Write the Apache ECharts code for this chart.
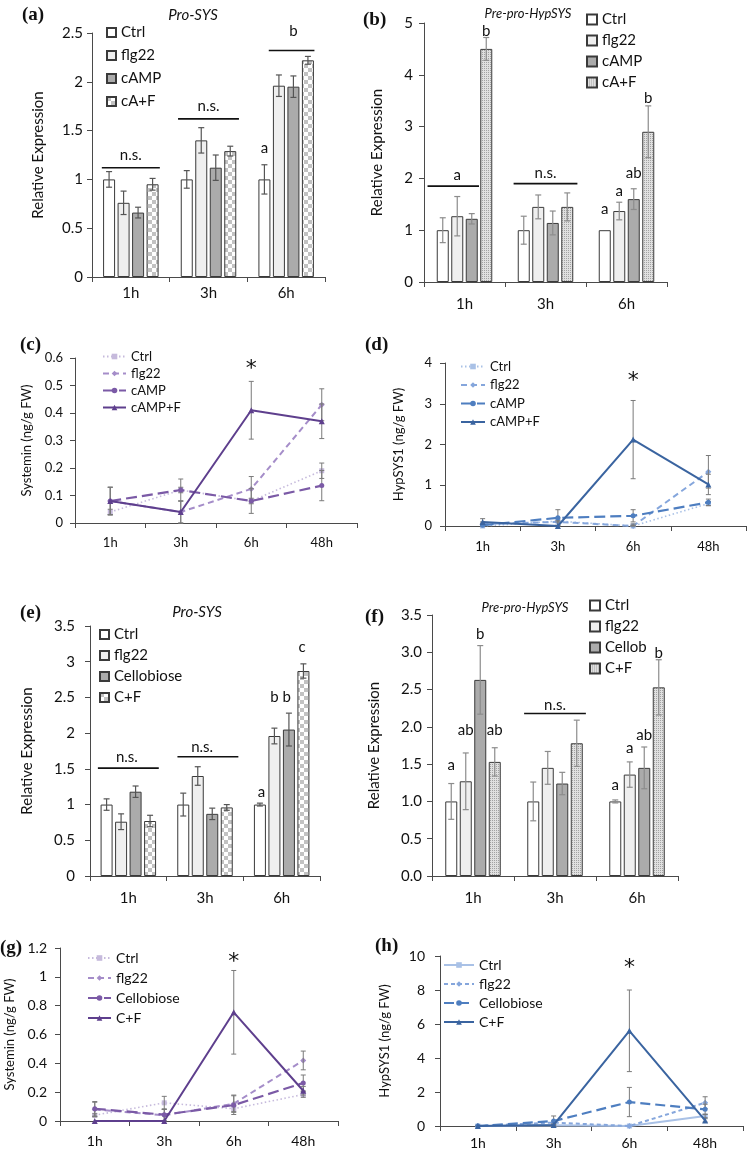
<!DOCTYPE html>
<html><head><meta charset="utf-8">
<script src="https://cdn.jsdelivr.net/npm/echarts@6/dist/echarts.min.js"></script>
<style>html,body{margin:0;padding:0;background:#fff}#c{width:748px;height:1151px}</style>
</head><body><div id="c"></div>
<script>
// ================= DATA =================
const barCats = ['1h', '3h', '6h'];
const lineCats = ['1h', '3h', '6h', '48h'];

// (a) Pro-SYS (cAMP experiment)
const aNames = ['Ctrl', 'flg22', 'cAMP', 'cA+F'];
const aCtrl = [1.00, 1.00, 1.00], aCtrlErr = [0.08, 0.09, 0.15];
const aFlg  = [0.76, 1.40, 1.96], aFlgErr  = [0.12, 0.13, 0.11];
const aCamp = [0.66, 1.12, 1.95], aCampErr = [0.055, 0.13, 0.11];
const aCaf  = [0.95, 1.29, 2.22], aCafErr  = [0.06, 0.05, 0.04];
const aLetters = [[0, 1.25, 1.5, 'n.s.'], [1, 1.75, 1.5, 'n.s.'], [2, 1.32, 0, 'a'], [2, 2.52, 2, 'b']];
const aLines = [[0, 1.12, -0.5, 3.5], [1, 1.62, -0.6, 3.6], [2, 2.32, 0.3, 3.45]];

// (b) Pre-pro-HypSYS (cAMP experiment)
const bNames = ['Ctrl', 'flg22', 'cAMP', 'cA+F'];
const bCtrl = [1.00, 1.00, 1.00], bCtrlErr = [0.24, 0.27, 0];
const bFlg  = [1.27, 1.45, 1.37], bFlgErr  = [0.38, 0.23, 0.17];
const bCamp = [1.22, 1.14, 1.60], bCampErr = [0.10, 0.23, 0.20];
const bCaf  = [4.50, 1.45, 2.90], bCafErr  = [0.22, 0.27, 0.50];
const bLetters = [[0, 2.06, 1, 'a'], [0, 4.84, 3, 'b'], [1, 2.10, 1.5, 'n.s.'], [2, 1.40, 0, 'a'], [2, 1.76, 1, 'a'], [2, 2.10, 2, 'ab'], [2, 3.55, 3, 'b']];
const bLines = [[0, 1.85, -1.05, 2.5], [1, 1.90, -0.7, 3.7]];

// (c) Systemin (cAMP experiment)
const cNames = ['Ctrl', 'flg22', 'cAMP', 'cAMP+F'];
const cCtrl = [0.04, 0.12, 0.08, 0.19],  cCtrlErr = [0.01, 0.01, 0.01, 0.028];
const cFlg  = [0.08, 0.04, 0.124, 0.43], cFlgErr  = [0.05, 0.04, 0.045, 0.058];
const cCamp = [0.08, 0.12, 0.08, 0.136], cCampErr = [0.05, 0.04, 0.045, 0.055];
const cCF   = [0.08, 0.04, 0.41, 0.37],  cCFErr   = [0.05, 0.04, 0.105, 0.063];
const cStar = [[2, 0.56, 0, '*']];

// (d) HypSYS1 (cAMP experiment)
const dNames = ['Ctrl', 'flg22', 'cAMP', 'cAMP+F'];
const dCtrl = [0.00, 0.12, 0.00, 0.55], dCtrlErr = [0.02, 0.02, 0.02, 0.05];
const dFlg  = [0.05, 0.10, 0.00, 1.33], dFlgErr  = [0.05, 0.10, 0.05, 0.40];
const dCamp = [0.02, 0.20, 0.25, 0.58], dCampErr = [0.05, 0.20, 0.15, 0.08];
const dCF   = [0.10, 0.00, 2.12, 1.02], dCFErr   = [0.08, 0.02, 0.96, 0.25];
const dStar = [[2, 3.54, 0, '*']];

// (e) Pro-SYS (cellobiose experiment)
const eNames = ['Ctrl', 'flg22', 'Cellobiose', 'C+F'];
const eCtrl = [1.00, 1.00, 1.00], eCtrlErr = [0.08, 0.16, 0.02];
const eFlg  = [0.76, 1.40, 1.96], eFlgErr  = [0.11, 0.13, 0.11];
const eCell = [1.18, 0.87, 2.05], eCellErr = [0.08, 0.08, 0.23];
const eCF   = [0.77, 0.96, 2.87], eCFErr   = [0.08, 0.04, 0.10];
const eLetters = [[0, 1.67, 1.4, 'n.s.'], [1, 1.81, 1.3, 'n.s.'], [2, 1.18, 0.1, 'a'], [2, 2.50, 1, 'b'], [2, 2.50, 1.85, 'b'], [2, 3.20, 2.9, 'c']];
const eLines = [[0, 1.51, -0.6, 3.6], [1, 1.67, -0.4, 3.8]];

// (f) Pre-pro-HypSYS (cellobiose experiment)
const fNames = ['Ctrl', 'flg22', 'Cellob', 'C+F'];
const fCtrl = [1.00, 1.00, 1.00], fCtrlErr = [0.24, 0.26, 0.02];
const fFlg  = [1.27, 1.45, 1.36], fFlgErr  = [0.38, 0.22, 0.17];
const fCell = [2.63, 1.24, 1.45], fCellErr = [0.46, 0.15, 0.28];
const fCF   = [1.53, 1.78, 2.53], fCFErr   = [0.19, 0.31, 0.37];
const fLetters = [[0, 1.49, 0, 'a'], [0, 1.96, 1, 'ab'], [0, 3.24, 2, 'b'], [0, 1.96, 3, 'ab'], [1, 2.29, 1.5, 'n.s.'], [2, 1.22, 0, 'a'], [2, 1.72, 1, 'a'], [2, 1.89, 2, 'ab'], [2, 2.99, 3, 'b']];
const fLines = [[1, 2.18, -0.63, 3.63]];

// (g) Systemin (cellobiose experiment)
const gNames = ['Ctrl', 'flg22', 'Cellobiose', 'C+F'];
const gCtrl = [0.04, 0.126, 0.085, 0.184], gCtrlErr = [0.01, 0.045, 0.02, 0.02];
const gFlg  = [0.08, 0.04, 0.12, 0.42],    gFlgErr  = [0.05, 0.04, 0.06, 0.065];
const gCell = [0.085, 0.044, 0.11, 0.264], gCellErr = [0.05, 0.04, 0.065, 0.055];
const gCF   = [0.00, 0.00, 0.754, 0.21],   gCFErr   = [0, 0, 0.29, 0.03];
const gStar = [[2, 1.10, 0, '*']];

// (h) HypSYS1 (cellobiose experiment)
const hNames = ['Ctrl', 'flg22', 'Cellobiose', 'C+F'];
const hCtrl = [0.00, 0.05, 0.00, 0.59], hCtrlErr = [0, 0.05, 0, 0.10];
const hFlg  = [0.00, 0.20, 0.00, 1.37], hFlgErr  = [0, 0.10, 0, 0.35];
const hCell = [0.00, 0.29, 1.41, 0.98], hCellErr = [0.05, 0.30, 0.86, 0.30];
const hCF   = [0.00, 0.06, 5.60, 0.33], hCFErr   = [0, 0.05, 2.40, 0.10];
const hStar = [[2, 9.3, 0, '*']];

// ================= BUILD =================
const FONT = 'Lato, "Open Sans", sans-serif';
const SERIF = '"Liberation Serif", "DejaVu Serif", serif';
const grids = [], xAxis = [], yAxis = [], series = [], legend = [], graphic = [];

function checker() {
  const c = document.createElement('canvas'); c.width = c.height = 8;
  const x = c.getContext('2d');
  x.fillStyle = '#ffffff'; x.fillRect(0, 0, 8, 8);
  x.fillStyle = '#c2c2c2'; x.fillRect(0, 0, 4, 4); x.fillRect(4, 4, 4, 4);
  return c;
}
function stipple() {
  const c = document.createElement('canvas'); c.width = c.height = 2;
  const x = c.getContext('2d');
  x.fillStyle = '#e0e0e0'; x.fillRect(0, 0, 2, 2);
  x.fillStyle = '#a2a2a2'; x.fillRect(0, 0, 1, 1);
  return c;
}

function addGrid(box, cats, o) {
  const gi = grids.length;
  grids.push({left: box[0], top: box[1], width: box[2], height: box[3]});
  xAxis.push({gridIndex: gi, type: 'category', data: cats, boundaryGap: true,
    axisLine: {show: true, lineStyle: {color: '#4a4a4a', width: 1}},
    axisTick: {show: true, length: 5, inside: false, alignWithLabel: false, lineStyle: {color: '#4a4a4a'}},
    axisLabel: {color: '#111', fontSize: o.fs, fontFamily: FONT, margin: o.xm, interval: 0},
    splitLine: {show: false}});
  yAxis.push({gridIndex: gi, type: 'value', min: 0, max: o.max, interval: o.int,
    axisLine: {show: true, lineStyle: {color: '#4a4a4a', width: 1}},
    axisTick: {show: true, length: 5, inside: false, lineStyle: {color: '#4a4a4a'}},
    axisLabel: {color: '#111', fontSize: o.fs, fontFamily: FONT, margin: o.ym, formatter: o.fmt},
    splitLine: {show: false},
    name: o.name, nameLocation: 'middle', nameRotate: 90, nameGap: o.ng,
    nameTextStyle: {fontSize: o.nfs, fontFamily: FONT, color: '#111'}});
  return gi;
}

function errSeries(gi, vals, errs, slot, n, step, color, capW, lw) {
  series.push({type: 'custom', xAxisIndex: gi, yAxisIndex: gi, silent: true, z: 5,
    data: vals.map((v, i) => [i, v, errs[i]]),
    renderItem: (p, api) => {
      const i = api.value(0), v = api.value(1), e = api.value(2);
      if (!(e > 0)) return null;
      const off = (slot - (n - 1) / 2) * step;
      const x = api.coord([i, v])[0] + off;
      const y1 = api.coord([i, v + e])[1], y0 = api.coord([i, Math.max(0, v - e)])[1];
      const st = {stroke: color, lineWidth: lw};
      return {type: 'group', children: [
        {type: 'line', shape: {x1: x, y1: y1, x2: x, y2: y0}, style: st},
        {type: 'line', shape: {x1: x - capW / 2, y1: y1, x2: x + capW / 2, y2: y1}, style: st},
        {type: 'line', shape: {x1: x - capW / 2, y1: y0, x2: x + capW / 2, y2: y0}, style: st}]};
    }});
}

function addNotes(gi, notes, lines, n, step, fs, fam) {
  const data = notes.map(t => [t[0], t[1]]).concat(lines.map(l => [l[0], l[1]]));
  series.push({type: 'custom', xAxisIndex: gi, yAxisIndex: gi, silent: true, z: 6, data: data,
    renderItem: (p, api) => {
      const k = p.dataIndex;
      const c = api.coord([api.value(0), api.value(1)]);
      if (k < notes.length) {
        const t = notes[k];
        const x = c[0] + (t[2] - (n - 1) / 2) * step;
        return {type: 'text', x: x, y: c[1], style: {text: t[3], fontSize: fs, fontFamily: fam || FONT, fill: '#111',
          align: 'center', verticalAlign: 'middle', textAlign: 'center', textVerticalAlign: 'middle'}};
      }
      const l = lines[k - notes.length];
      const x0 = c[0] + (l[2] - (n - 1) / 2) * step, x1 = c[0] + (l[3] - (n - 1) / 2) * step;
      return {type: 'line', shape: {x1: x0, y1: c[1], x2: x1, y2: c[1]}, style: {stroke: '#111', lineWidth: 1.6}};
    }});
}

function barPanel(key, box, axisOpt, names, vals, errs, fills, errColor, leg, letters, lines, noteFs) {
  const gi = addGrid(box, barCats, axisOpt);
  const bw = 12, gap = 2.5, step = bw + gap;
  names.forEach((nm, s) => {
    series.push({type: 'bar', name: key + '|' + nm, xAxisIndex: gi, yAxisIndex: gi,
      data: vals[s], barWidth: bw, barGap: (gap / bw * 100) + '%',
      itemStyle: {color: fills[s], borderColor: '#3a3a3a', borderWidth: 1}, z: 2, silent: true});
  });
  names.forEach((nm, s) => errSeries(gi, vals[s], errs[s], s, names.length, step, errColor, 6, 1.2));
  addNotes(gi, letters, lines, names.length, step, noteFs);
  legend.push({left: leg.left, top: leg.top, orient: 'vertical', padding: 0, itemGap: leg.gap,
    itemWidth: leg.sz, itemHeight: leg.sz, icon: 'rect', selectedMode: false,
    data: names.map(nm => key + '|' + nm), formatter: n => n.split('|')[1],
    textStyle: {fontSize: leg.fs, fontFamily: FONT, color: '#111'}});
}

function linePanel(key, box, axisOpt, names, vals, errs, colors, dashes, widths, symbols, leg, star) {
  const gi = addGrid(box, lineCats, axisOpt);
  names.forEach((nm, s) => errSeries(gi, vals[s], errs[s], 0, 1, 0, '#7a7a7a', 5, 1));
  names.forEach((nm, s) => {
    series.push({type: 'line', name: key + '|' + nm, xAxisIndex: gi, yAxisIndex: gi, data: vals[s],
      symbol: symbols[s][0], symbolSize: symbols[s][1], showSymbol: true, z: 3 + s, silent: true,
      lineStyle: {color: colors[s], width: widths[s], type: dashes[s]},
      itemStyle: {color: colors[s], borderWidth: 0}});
  });
  addNotes(gi, star, [], 1, 0, 22, '"DejaVu Sans", sans-serif');
  legend.push({left: leg.left, top: leg.top, orient: 'vertical', padding: 0, itemGap: leg.gap,
    itemWidth: leg.w, itemHeight: 7, selectedMode: false,
    data: names.map(nm => key + '|' + nm), formatter: n => n.split('|')[1],
    textStyle: {fontSize: leg.fs, fontFamily: FONT, color: '#111'}});
}

const CHECK = {image: checker(), repeat: 'repeat'};
const STIP = {image: stipple(), repeat: 'repeat'};
const barFillsA = ['#ffffff', '#efefef', '#ababab', CHECK];
const barFillsB = ['#ffffff', '#efefef', '#ababab', STIP];
const purple = ['#c6badc', '#a58dc9', '#7b5aa6', '#5e3f8d'];
const blue = ['#a9c1e6', '#85a6dc', '#4e7ec0', '#3a64a0'];
const dashC = [[1.5, 2.5], [6, 4], [11, 5], 'solid'];
const dashH = ['solid', [4, 3], [10, 5], 'solid'];
const syms = [['rect', 5], ['diamond', 6], ['circle', 5], ['triangle', 6]];

barPanel('a', [92, 33, 233, 244], {max: 2.5, int: 0.5, fs: 15, xm: 9, ym: 9, name: 'Relative Expression', ng: 46, nfs: 15},
  aNames, [aCtrl, aFlg, aCamp, aCaf], [aCtrlErr, aFlgErr, aCampErr, aCafErr], barFillsA, '#555',
  {left: 106, top: 25, gap: 8, sz: 9, fs: 15}, aLetters, aLines, 15);

barPanel('b', [424, 23, 243, 259], {max: 5, int: 1, fs: 15, xm: 15, ym: 11, name: 'Relative Expression', ng: 39, nfs: 15},
  bNames, [bCtrl, bFlg, bCamp, bCaf], [bCtrlErr, bFlgErr, bCampErr, bCafErr], barFillsB, '#8c8c8c',
  {left: 586, top: 12, gap: 6, sz: 10, fs: 15}, bLetters, bLines, 15);

linePanel('c', [75, 358, 282, 165], {max: 0.6, int: 0.1, fs: 13, xm: 13, ym: 12, name: 'Systemin (ng/g FW)', ng: 42, nfs: 13},
  cNames, [cCtrl, cFlg, cCamp, cCF], [cCtrlErr, cFlgErr, cCampErr, cCFErr], purple, dashC, [1.6, 2, 2.2, 2], syms,
  {left: 102, top: 350, gap: 4, w: 23, fs: 13}, cStar);

linePanel('d', [445, 363, 301, 163], {max: 4, int: 1, fs: 13, xm: 14, ym: 13, name: 'HypSYS1 (ng/g FW)', ng: 40, nfs: 13},
  dNames, [dCtrl, dFlg, dCamp, dCF], [dCtrlErr, dFlgErr, dCampErr, dCFErr], blue, dashC, [1.6, 2, 2.2, 2], syms,
  {left: 460, top: 360, gap: 5.5, w: 24, fs: 13}, dStar);

barPanel('e', [90, 626, 230, 250], {max: 3.5, int: 0.5, fs: 15, xm: 15, ym: 15, name: 'Relative Expression', ng: 55, nfs: 15},
  eNames, [eCtrl, eFlg, eCell, eCF], [eCtrlErr, eFlgErr, eCellErr, eCFErr], barFillsA, '#555',
  {left: 99, top: 627, gap: 6, sz: 9, fs: 15}, eLetters, eLines, 15);

barPanel('f', [432, 615, 246, 261], {max: 3.5, int: 0.5, fs: 15, xm: 15, ym: 10, fmt: v => v.toFixed(1), name: 'Relative Expression', ng: 50, nfs: 15},
  fNames, [fCtrl, fFlg, fCell, fCF], [fCtrlErr, fFlgErr, fCellErr, fCFErr], barFillsB, '#8c8c8c',
  {left: 589, top: 598, gap: 6, sz: 10, fs: 15}, fLetters, fLines, 15);

linePanel('g', [60, 948, 278, 173], {max: 1.2, int: 0.2, fs: 14, xm: 13, ym: 13, name: 'Systemin (ng/g FW)', ng: 44, nfs: 13},
  gNames, [gCtrl, gFlg, gCell, gCF], [gCtrlErr, gFlgErr, gCellErr, gCFErr], purple, dashC, [1.6, 2, 2.2, 2], syms,
  {left: 87, top: 951, gap: 6, w: 23, fs: 14}, gStar);

linePanel('h', [440, 956, 303, 170], {max: 10, int: 2, fs: 14, xm: 10, ym: 15, name: 'HypSYS1 (ng/g FW)', ng: 49, nfs: 13},
  hNames, [hCtrl, hFlg, hCell, hCF], [hCtrlErr, hFlgErr, hCellErr, hCFErr], blue, dashH, [2, 2, 2.2, 2], syms,
  {left: 443, top: 958, gap: 5, w: 30, fs: 14}, hStar);

// Panel letters and titles
const panelLabels = [['(a)', 22, 15], ['(b)', 363, 20], ['(c)', 20, 345], ['(d)', 365, 345],
                     ['(e)', 20, 613], ['(f)', 365, 617], ['(g)', 0, 948], ['(h)', 375, 946]];
panelLabels.forEach(p => graphic.push({type: 'text', x: p[1], y: p[2],
  style: {text: p[0], font: 'bold 19px ' + SERIF, fill: '#111', align: 'left', verticalAlign: 'middle'}}));
const titles = [['Pro-SYS', 193, 15, 15], ['Pre-pro-HypSYS', 528, 14, 13], ['Pro-SYS', 197, 612, 15], ['Pre-pro-HypSYS', 525, 608, 13]];
titles.forEach(t => graphic.push({type: 'text', x: t[1], y: t[2],
  style: {text: t[0], font: 'italic ' + t[3] + 'px ' + FONT, fill: '#111', align: 'center', verticalAlign: 'middle'}}));

const chart = echarts.init(document.getElementById('c'), null, {renderer: 'canvas'});
chart.setOption({animation: false, backgroundColor: '#fff', grid: grids, xAxis: xAxis, yAxis: yAxis,
  series: series, legend: legend, graphic: graphic});
</script></body></html>
